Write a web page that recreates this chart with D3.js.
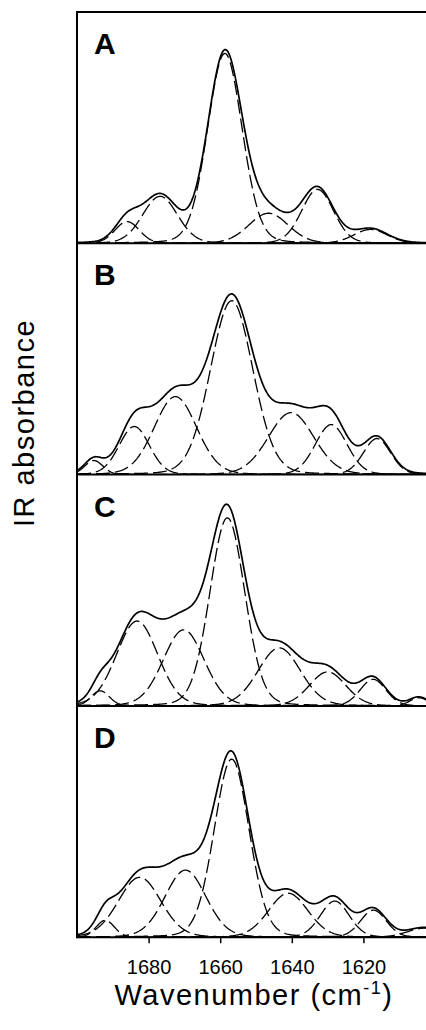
<!DOCTYPE html>
<html>
<head>
<meta charset="utf-8">
<script src="https://cdn.jsdelivr.net/npm/d3@7/dist/d3.min.js"></script>
<style>
  body { margin: 0; background: #fff; }
  svg { display: block; }
  text { font-family: "Liberation Sans", Arial, sans-serif; fill: #000; }
</style>
</head>
<body>
<div class="ir__chart"></div>
<script>
// band parameters (centre cm-1, height in % of panel, FWHM cm-1)
var labels = ["A", "B", "C", "D"];

var centA   = [1686, 1676.8, 1658.7, 1646.5, 1632.8, 1618];
var heightA = [9.4, 20.3, 82.1, 13, 23.3, 6];
var fwhmA   = [8, 11.5, 11.4, 13, 10.5, 11];

var centB   = [1695.3, 1684, 1672.5, 1656.8, 1640.2, 1629, 1616.2];
var heightB = [6.1, 20.8, 33.7, 75.2, 26.8, 21.6, 15.6];
var fwhmB   = [6, 10, 14, 14, 15, 10.5, 9];

var centC   = [1693.5, 1683.2, 1670.2, 1658, 1643.5, 1630, 1617.3, 1604.5];
var heightC = [6.5, 36.7, 32.9, 81.3, 25.1, 14.7, 11.5, 3.5];
var fwhmC   = [6, 13.6, 13.5, 11.5, 14, 12, 8.5, 6];

var centD   = [1692.1, 1682.5, 1669.7, 1656.8, 1641, 1628, 1617.2, 1603];
var heightD = [7.3, 25.9, 29, 77, 19, 15.6, 11.7, 3.9];
var fwhmD   = [6, 14, 13.5, 11.5, 13, 9.5, 8.5, 11];

var xTicks = [1680, 1660, 1640, 1620];

var panelData = [
  {label: labels[0], cent: centA, height: heightA, fwhm: fwhmA},
  {label: labels[1], cent: centB, height: heightB, fwhm: fwhmB},
  {label: labels[2], cent: centC, height: heightC, fwhm: fwhmC},
  {label: labels[3], cent: centD, height: heightD, fwhm: fwhmD}
];

var eta = 0.1; // small lorentzian share in the band shape

function band(w, c, h, f) {
  var d = (w - c) / f;
  var g = Math.exp(-4 * Math.LN2 * d * d);
  var l = 1 / (1 + 4 * d * d);
  return h * (eta * l + (1 - eta) * g);
}

var margin = {top: 12, left: 77},
    width = 358,
    ph = 231.3;

var x = d3.scaleLinear().domain([1700, 1600]).range([0, width]);
var y = d3.scaleLinear().domain([0, 100]).range([ph, 0]);

var wn = d3.range(1700, 1599.99, -0.25);

var svg = d3.select(".ir__chart")
    .append("svg")
    .attr("width", 426)
    .attr("height", 1030);

svg.append("defs").append("clipPath")
    .attr("id", "clip")
  .append("rect")
    .attr("x", 0).attr("y", -2)
    .attr("width", width).attr("height", ph + 2);

var line = d3.line()
    .x(function(d){ return x(d.w); })
    .y(function(d){ return y(d.v); });

panelData.forEach(function(p, i) {
  var g = svg.append("g")
      .attr("transform", "translate(" + margin.left + "," + (margin.top + i * ph) + ")");

  var plot = g.append("g").attr("clip-path", "url(#clip)");

  // fitted components
  p.cent.forEach(function(c, k) {
    var pts = wn.map(function(w){ return {w: w, v: band(w, c, p.height[k], p.fwhm[k])}; });
    plot.append("path")
        .datum(pts)
        .attr("fill", "none")
        .attr("stroke", "#000")
        .attr("stroke-width", 1.3)
        .attr("stroke-dasharray", "14,5")
        .attr("d", line);
  });

  // spectrum (sum of components)
  var sum = wn.map(function(w){
    var v = 0;
    p.cent.forEach(function(c, k){ v += band(w, c, p.height[k], p.fwhm[k]); });
    return {w: w, v: v};
  });
  plot.append("path")
      .datum(sum)
      .attr("fill", "none")
      .attr("stroke", "#000")
      .attr("stroke-width", 1.7)
      .attr("stroke-linejoin", "round")
      .attr("d", line);

  // baseline / panel separator
  g.append("line")
      .attr("x1", 0).attr("x2", width)
      .attr("y1", ph).attr("y2", ph)
      .attr("stroke", "#000").attr("stroke-width", 2);

  if (i == 0) {
    g.append("line")
        .attr("x1", 0).attr("x2", width)
        .attr("y1", 0).attr("y2", 0)
        .attr("stroke", "#000").attr("stroke-width", 2);
  }

  g.append("text")
      .attr("x", 17)
      .attr("y", 42)
      .style("font-size", "30px")
      .style("font-weight", "bold")
      .text(p.label);
});

// left axis line
svg.append("line")
    .attr("x1", margin.left).attr("x2", margin.left)
    .attr("y1", margin.top - 1).attr("y2", margin.top + 4 * ph + 1)
    .attr("stroke", "#000").attr("stroke-width", 2);

// bottom axis
var xAxis = d3.axisBottom(x)
    .tickValues(xTicks)
    .tickSize(6)
    .tickPadding(17)
    .tickFormat(d3.format("d"));

svg.append("g")
    .attr("transform", "translate(" + margin.left + "," + (margin.top + 4 * ph) + ")")
    .call(xAxis)
    .call(function(a){ a.select(".domain").remove(); })
    .call(function(a){
      a.selectAll("line").attr("stroke", "#000").attr("stroke-width", 1.5);
      a.selectAll("text")
        .attr("fill", "#000")
        .style("font-family", "'Liberation Sans', Arial, sans-serif")
        .style("font-size", "20px");
    });

// axis titles
var xt = svg.append("text")
    .attr("x", 254)
    .attr("y", 1005)
    .attr("text-anchor", "middle")
    .style("font-size", "29px")
    .style("letter-spacing", "1.5px");
xt.append("tspan").text("Wavenumber (cm");
xt.append("tspan").attr("dy", -11).style("font-size", "18px").text("-1");
xt.append("tspan").attr("dy", 11).text(")");

svg.append("text")
    .attr("transform", "translate(33.5,423) rotate(-90)")
    .attr("text-anchor", "middle")
    .style("font-size", "29px")
    .style("letter-spacing", "1.5px")
    .text("IR absorbance");
</script>
</body>
</html>
